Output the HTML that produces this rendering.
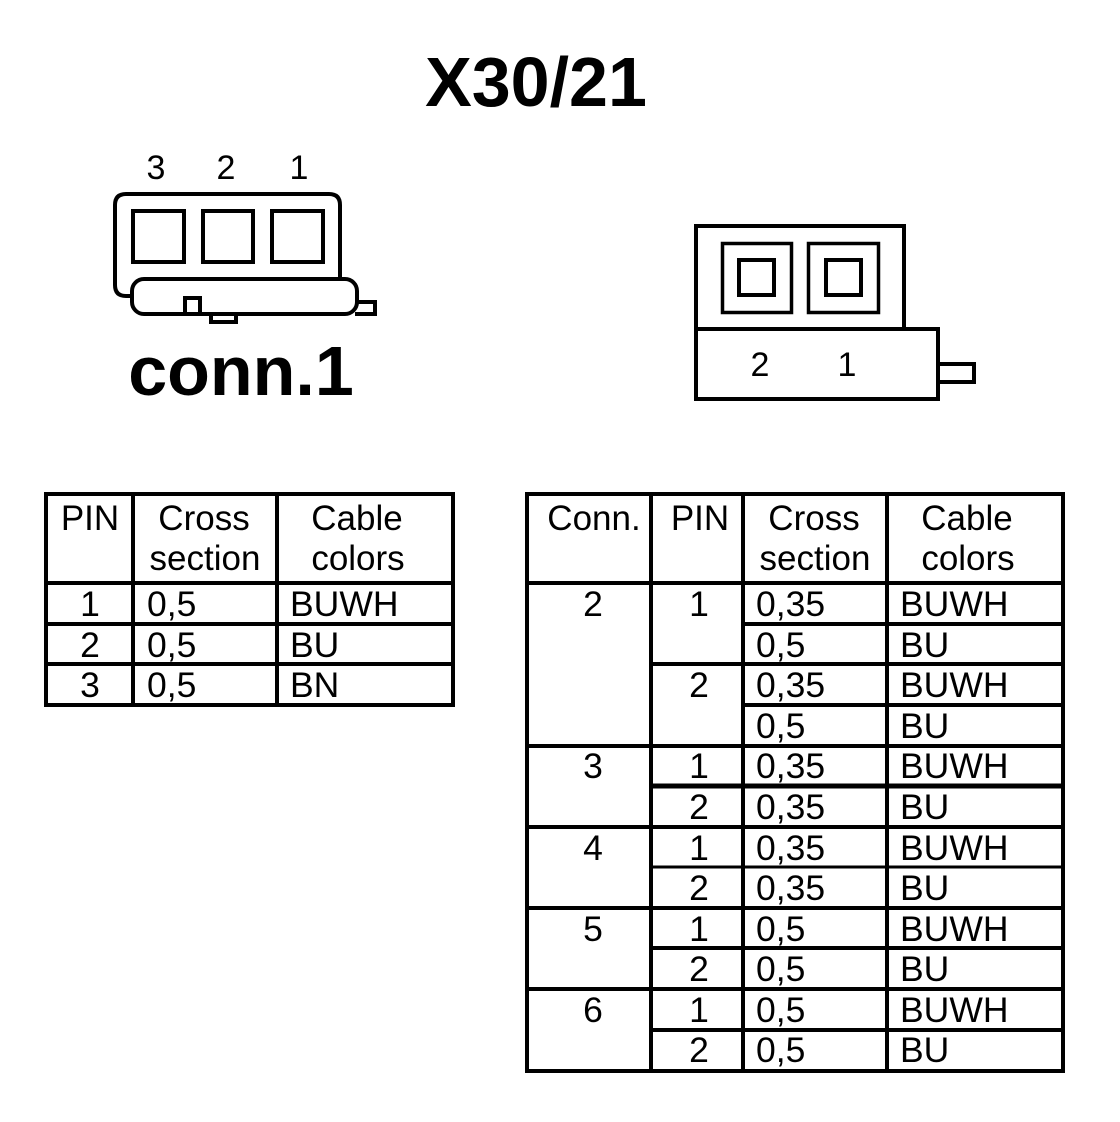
<!DOCTYPE html>
<html>
<head>
<meta charset="utf-8">
<style>
html,body{margin:0;padding:0;background:#fff;}
svg{display:block;}
text{font-family:"Liberation Sans",Arial,sans-serif;fill:#000;}
.t{font-size:35.5px;}
.h{font-size:35px;}
.m{text-anchor:middle;}
.b{font-weight:bold;font-size:70px;}
.l{stroke:#000;stroke-width:4;fill:none;}
</style>
</head>
<body>
<svg width="1120" height="1122" viewBox="0 0 1120 1122" xmlns="http://www.w3.org/2000/svg">
<rect width="1120" height="1122" fill="#fff"/>
<text class="b m" x="536" y="106">X30/21</text>
<text class="b m" x="241" y="395">conn.1</text>

<!-- connector 1 -->
<g class="t m">
<text x="156" y="179" style="font-size:34px">3</text>
<text x="226" y="179" style="font-size:34px">2</text>
<text x="299" y="179" style="font-size:34px">1</text>
</g>
<g class="l">
<path d="M131 296 H126 Q115 296 115 285 V205 Q115 194 126 194 H329 Q340 194 340 205 V279"/>
<rect x="133" y="211" width="51" height="51"/>
<rect x="203" y="211" width="50" height="51"/>
<rect x="272" y="211" width="51" height="51"/>
<rect x="132" y="279" width="225" height="35" rx="12" ry="12"/>
<path d="M185 314 V298 H200 V314"/>
<path d="M211 315 V322 H236 V315"/>
<path d="M358 302 H375 V314 H355"/>
</g>

<!-- connector 2 -->
<g class="l">
<path d="M904 329 V226 H696 V399 H938 V329 H904"/>
<path d="M696 329 H904"/>
<rect x="722.500" y="243.500" width="69" height="69" stroke-width="3.500"/>
<rect x="808.500" y="243.500" width="70" height="69" stroke-width="3.500"/>
<rect x="739" y="260" width="35" height="35"/>
<rect x="826" y="260" width="35" height="35"/>
<path d="M940 364 H974 V382 H940"/>
</g>
<text x="760" y="376" class="m" style="font-size:34px">2</text>
<text x="847" y="376" class="m" style="font-size:34px">1</text>

<!-- left table -->
<g class="l">
<rect x="46" y="494" width="407" height="211"/>
<path d="M133 494 V705 M277 494 V705 M46 583 H453 M46 624 H453 M46 664 H453"/>
</g>
<g class="t">
<g class="m">
<text class="h" x="90" y="530">PIN</text>
<text class="h" x="204" y="530">Cross</text>
<text class="h" x="205" y="570">section</text>
<text class="h" x="357" y="530">Cable</text>
<text class="h" x="358" y="570">colors</text>
<text x="90" y="616">1</text>
<text x="90" y="657">2</text>
<text x="90" y="697">3</text>
</g>
<text x="147" y="616">0,5</text>
<text x="147" y="657">0,5</text>
<text x="147" y="697">0,5</text>
<text x="290" y="616">BUWH</text>
<text x="290" y="657">BU</text>
<text x="290" y="697">BN</text>
</g>

<!-- right table -->
<g class="l">
<rect x="527" y="494" width="536" height="577"/>
<path d="M651 494 V1071 M743 494 V1071 M887 494 V1071"/>
<path d="M527 583 H1063 M743 624 H1063 M651 664 H1063 M743 705 H1063 M527 746 H1063"/>
<path d="M651 786 H1063" stroke-width="5"/>
<path d="M527 827 H1063"/>
<path d="M651 867 H1063" stroke-width="3"/>
<path d="M527 908 H1063"/>
<path d="M651 948 H1063"/>
<path d="M527 989 H1063"/>
<path d="M651 1030 H1063"/>
</g>
<g class="t">
<g class="m">
<text class="h" x="594" y="530">Conn.</text>
<text class="h" x="700" y="530">PIN</text>
<text class="h" x="814" y="530">Cross</text>
<text class="h" x="815" y="570">section</text>
<text class="h" x="967" y="530">Cable</text>
<text class="h" x="968" y="570">colors</text>
<text x="593" y="616">2</text>
<text x="593" y="778">3</text>
<text x="593" y="860">4</text>
<text x="593" y="941">5</text>
<text x="593" y="1022">6</text>
<text x="699" y="616">1</text>
<text x="699" y="697">2</text>
<text x="699" y="778">1</text>
<text x="699" y="819">2</text>
<text x="699" y="860">1</text>
<text x="699" y="900">2</text>
<text x="699" y="941">1</text>
<text x="699" y="981">2</text>
<text x="699" y="1022">1</text>
<text x="699" y="1062">2</text>
</g>
<text x="756" y="616">0,35</text>
<text x="756" y="657">0,5</text>
<text x="756" y="697">0,35</text>
<text x="756" y="738">0,5</text>
<text x="756" y="778">0,35</text>
<text x="756" y="819">0,35</text>
<text x="756" y="860">0,35</text>
<text x="756" y="900">0,35</text>
<text x="756" y="941">0,5</text>
<text x="756" y="981">0,5</text>
<text x="756" y="1022">0,5</text>
<text x="756" y="1062">0,5</text>
<text x="900" y="616">BUWH</text>
<text x="900" y="657">BU</text>
<text x="900" y="697">BUWH</text>
<text x="900" y="738">BU</text>
<text x="900" y="778">BUWH</text>
<text x="900" y="819">BU</text>
<text x="900" y="860">BUWH</text>
<text x="900" y="900">BU</text>
<text x="900" y="941">BUWH</text>
<text x="900" y="981">BU</text>
<text x="900" y="1022">BUWH</text>
<text x="900" y="1062">BU</text>
</g>
</svg>
</body>
</html>
